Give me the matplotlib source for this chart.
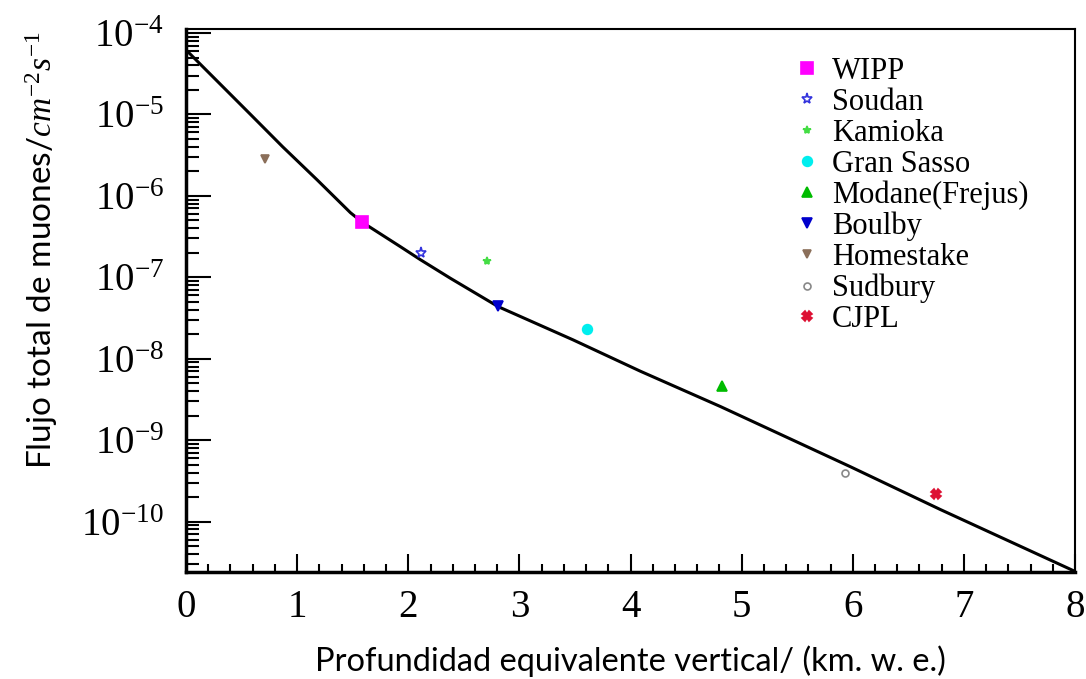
import numpy as np
import matplotlib
matplotlib.use("Agg")
import matplotlib.pyplot as plt
from matplotlib.ticker import LogLocator, FixedLocator, MultipleLocator, NullFormatter, LogFormatterSciNotation

plt.rcParams['font.family'] = ['Liberation Serif', 'DejaVu Serif']
plt.rcParams['mathtext.fontset'] = 'custom'
plt.rcParams['mathtext.rm'] = 'Liberation Serif'
plt.rcParams['mathtext.it'] = 'Liberation Serif:italic'
plt.rcParams['mathtext.bf'] = 'Liberation Serif:bold'

# curve (depth km.w.e., total muon flux)
curve_x = [0.0, 0.58, 0.87, 1.18, 1.48, 1.59, 1.93, 2.11, 2.38, 2.81, 3.48, 4.09, 4.81, 5.98, 6.79, 8.0]
curve_y = [6.2e-5, 1.0e-5, 4.0e-6, 1.57e-6, 6.2e-7, 4.7e-7, 2.37e-7, 1.64e-7, 9.7e-8, 4.35e-8,
           1.71e-8, 7.0e-9, 2.58e-9, 4.7e-10, 1.40e-10, 2.44e-11]

labs = ['WIPP', 'Soudan', 'Kamioka', 'Gran Sasso', 'Modane(Frejus)', 'Boulby', 'Homestake', 'Sudbury', 'CJPL']
depth = [1.58, 2.11, 2.71, 3.61, 4.82, 2.81, 0.71, 5.93, 6.75]
flux = [4.8e-7, 2.0e-7, 1.6e-7, 2.3e-8, 4.6e-9, 4.4e-8, 2.8e-6, 3.9e-10, 2.2e-10]
colors = ['#ff00ff', '#3333dd', '#44dd44', '#00eeee', '#00bb00', '#0000cc', '#8b6f5a', '#888888', '#dd1133']
markers = ['s', '*', '*', 'o', '^', 'v', 'v', 'o', 'X']
filled = [True, False, True, True, True, True, True, False, True]
sizes = [8, 8, 6, 7, 7, 7, 6, 5, 7]
decades = 10.0 ** np.arange(-10, -3)

fig = plt.figure(figsize=(10.86, 6.79), dpi=100)
ax = fig.add_axes([0.1713, 0.1576, 0.8186, 0.7997])

ax.plot(curve_x, curve_y, color='black', lw=2.2, zorder=2)
for i in range(len(labs)):
    fc = colors[i] if filled[i] else 'none'
    ax.plot(depth[i], flux[i], linestyle='none', marker=markers[i], ms=sizes[i],
            mfc=fc, mec=colors[i], mew=1.2, label=labs[i], zorder=3)

ax.set_yscale('log')
ax.set_xlim(0, 8)
ax.set_ylim(2.4e-11, 1.12e-4)
ax.yaxis.set_major_locator(FixedLocator(decades))
ax.yaxis.set_major_formatter(LogFormatterSciNotation())
ax.yaxis.set_minor_locator(LogLocator(base=10, subs=np.arange(2, 10), numticks=20))
ax.yaxis.set_minor_formatter(NullFormatter())
ax.xaxis.set_major_locator(MultipleLocator(1))
ax.xaxis.set_minor_locator(MultipleLocator(0.2))

ax.tick_params(axis='both', which='both', direction='in', top=False, right=False, labelsize=28)
ax.tick_params(axis='y', which='major', length=18, width=1.5, pad=16)
ax.tick_params(axis='y', which='minor', length=9, width=1.5)
ax.tick_params(axis='x', which='major', length=13, width=1.5, pad=12)
ax.tick_params(axis='x', which='minor', length=6, width=1.5)
ax.spines['left'].set_linewidth(2.5)
ax.spines['bottom'].set_linewidth(2.5)
ax.spines['top'].set_linewidth(1.5)
ax.spines['right'].set_linewidth(1.5)

ax.set_xlabel('Profundidad equivalente vertical/ (km. w. e.)', family='Lato', fontsize=23.5, labelpad=14)
ax.set_ylabel('Flujo total de muones/$cm^{-2}s^{-1}$', family='Lato', fontsize=24)
ax.yaxis.set_label_coords(-0.142, 0.593)

ax.legend(loc='upper left', bbox_to_anchor=(795 / 1086, 1 - 57 / 679), bbox_transform=fig.transFigure,
          frameon=False, fontsize=22, numpoints=1, handlelength=0.8, handletextpad=0.4,
          labelspacing=0.06, borderpad=0, borderaxespad=0)

fig.savefig('out.png', dpi=100)
